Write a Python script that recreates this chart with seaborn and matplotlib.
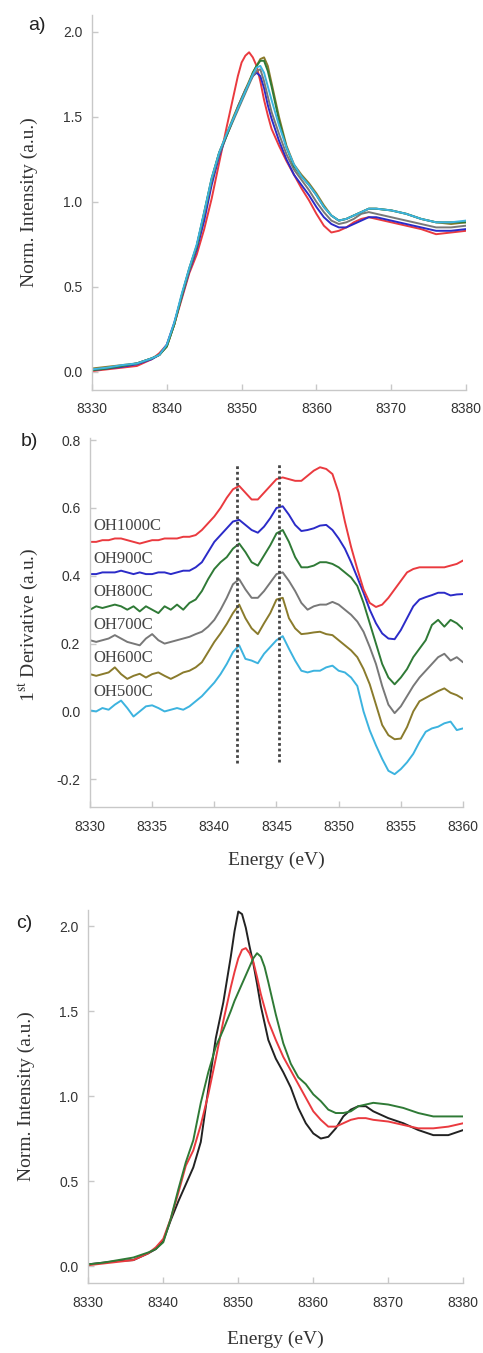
import matplotlib
matplotlib.use("Agg")
import matplotlib.pyplot as plt
import seaborn as sns

# ---------------- data ----------------
# Panel a / c energy grid (eV)
energy_ac = [8330, 8332, 8334, 8336, 8338,
             8339, 8340, 8341, 8342, 8343, 8344, 8345, 8346, 8347, 8348, 8349,
             8349.5, 8350, 8350.5, 8351, 8351.5, 8352, 8352.5, 8353, 8353.5, 8354,
             8355, 8356, 8357, 8358, 8359, 8360, 8361, 8362, 8363, 8364, 8365, 8366, 8367, 8368,
             8370, 8372, 8374, 8376, 8378, 8380]

# Panel a: normalized XANES
a_oh1000 = [0.005, 0.015, 0.025, 0.035, 0.075,
            0.11, 0.16, 0.28, 0.43, 0.58, 0.69, 0.84, 1.02, 1.23, 1.44, 1.64,
            1.74, 1.82, 1.86, 1.88, 1.85, 1.80, 1.71, 1.60, 1.51, 1.43,
            1.33, 1.24, 1.16, 1.08, 1.01, 0.93, 0.86, 0.82, 0.83, 0.85, 0.88, 0.90, 0.91, 0.90,
            0.88, 0.86, 0.84, 0.81, 0.82, 0.83]
a_oh900 = [0.01, 0.02, 0.03, 0.045, 0.075,
           0.10, 0.16, 0.29, 0.44, 0.59, 0.72, 0.89, 1.10, 1.27, 1.39, 1.50,
           1.56, 1.61, 1.66, 1.70, 1.74, 1.76, 1.74, 1.67, 1.57, 1.49,
           1.36, 1.25, 1.16, 1.10, 1.04, 0.97, 0.91, 0.87, 0.85, 0.85, 0.87, 0.89, 0.91, 0.91,
           0.89, 0.87, 0.85, 0.83, 0.83, 0.84]
a_oh700 = [0.015, 0.025, 0.035, 0.05, 0.08,
           0.10, 0.15, 0.28, 0.45, 0.60, 0.74, 0.93, 1.13, 1.28, 1.39, 1.49,
           1.54, 1.59, 1.64, 1.69, 1.74, 1.77, 1.78, 1.71, 1.62, 1.53,
           1.40, 1.28, 1.19, 1.13, 1.07, 1.00, 0.94, 0.89, 0.87, 0.88, 0.90, 0.93, 0.94, 0.93,
           0.91, 0.89, 0.87, 0.85, 0.85, 0.86]
a_oh600 = [0.02, 0.03, 0.04, 0.05, 0.08,
           0.10, 0.15, 0.28, 0.45, 0.60, 0.74, 0.93, 1.13, 1.29, 1.40, 1.51,
           1.56, 1.61, 1.66, 1.71, 1.76, 1.80, 1.84, 1.85, 1.80, 1.70,
           1.50, 1.33, 1.22, 1.16, 1.11, 1.05, 0.98, 0.92, 0.89, 0.90, 0.92, 0.94, 0.96, 0.96,
           0.95, 0.93, 0.90, 0.88, 0.87, 0.88]
a_oh800 = [0.01, 0.02, 0.035, 0.05, 0.08,
           0.10, 0.15, 0.28, 0.45, 0.61, 0.74, 0.94, 1.14, 1.29, 1.39, 1.50,
           1.55, 1.60, 1.65, 1.70, 1.76, 1.80, 1.83, 1.83, 1.77, 1.68,
           1.48, 1.32, 1.21, 1.15, 1.10, 1.04, 0.97, 0.92, 0.89, 0.90, 0.92, 0.94, 0.96, 0.96,
           0.95, 0.93, 0.90, 0.88, 0.88, 0.88]
a_oh500 = [0.015, 0.025, 0.04, 0.05, 0.08,
           0.10, 0.16, 0.29, 0.46, 0.61, 0.75, 0.94, 1.14, 1.29, 1.40, 1.50,
           1.55, 1.60, 1.65, 1.70, 1.75, 1.79, 1.80, 1.76, 1.68, 1.60,
           1.45, 1.32, 1.22, 1.15, 1.10, 1.04, 0.97, 0.92, 0.89, 0.90, 0.92, 0.94, 0.96, 0.96,
           0.95, 0.93, 0.90, 0.88, 0.88, 0.89]

# Panel c: comparison
c_black = [0.01, 0.02, 0.03, 0.035, 0.075,
           0.10, 0.15, 0.27, 0.38, 0.48, 0.58, 0.73, 1.04, 1.34, 1.55, 1.82,
           1.97, 2.085, 2.07, 1.99, 1.88, 1.78, 1.66, 1.53, 1.43, 1.33,
           1.22, 1.14, 1.05, 0.93, 0.84, 0.78, 0.75, 0.76, 0.81, 0.88, 0.92, 0.94, 0.94, 0.91,
           0.87, 0.84, 0.80, 0.77, 0.77, 0.80]
c_red = [0.005, 0.015, 0.025, 0.035, 0.075,
         0.11, 0.16, 0.28, 0.43, 0.59, 0.68, 0.83, 1.01, 1.22, 1.44, 1.64,
         1.73, 1.81, 1.86, 1.87, 1.84, 1.79, 1.70, 1.60, 1.52, 1.44,
         1.33, 1.23, 1.15, 1.07, 0.99, 0.91, 0.86, 0.82, 0.82, 0.84, 0.86, 0.87, 0.87, 0.86,
         0.85, 0.83, 0.81, 0.81, 0.82, 0.84]
c_green = [0.01, 0.02, 0.035, 0.05, 0.08,
           0.10, 0.14, 0.28, 0.45, 0.61, 0.74, 0.96, 1.14, 1.29, 1.39, 1.50,
           1.56, 1.61, 1.66, 1.71, 1.76, 1.81, 1.84, 1.82, 1.76, 1.67,
           1.48, 1.31, 1.19, 1.11, 1.07, 1.01, 0.97, 0.92, 0.90, 0.90, 0.91, 0.94, 0.95, 0.96,
           0.95, 0.93, 0.90, 0.88, 0.88, 0.88]

# Panel b: first derivative (stacked as plotted)
energy_b = [8330.0, 8330.5, 8331.0, 8331.5, 8332.0, 8332.5, 8333.0, 8333.5, 8334.0, 8334.5,
            8335.0, 8335.5, 8336.0, 8336.5, 8337.0, 8337.5, 8338.0, 8338.5, 8339.0, 8339.5,
            8340.0, 8340.5, 8341.0, 8341.5, 8342.0, 8342.5, 8343.0, 8343.5, 8344.0, 8344.5,
            8345.0, 8345.5, 8346.0, 8346.5, 8347.0, 8347.5, 8348.0, 8348.5, 8349.0, 8349.5,
            8350.0, 8350.5, 8351.0, 8351.5, 8352.0, 8352.5, 8353.0, 8353.5, 8354.0, 8354.5,
            8355.0, 8355.5, 8356.0, 8356.5, 8357.0, 8357.5, 8358.0, 8358.5, 8359.0, 8359.5,
            8360.0]
b_oh1000 = [0.50, 0.50, 0.505, 0.505, 0.51, 0.51, 0.505, 0.50, 0.495, 0.50,
            0.505, 0.505, 0.51, 0.51, 0.51, 0.515, 0.515, 0.52, 0.535, 0.555,
            0.575, 0.60, 0.63, 0.655, 0.665, 0.645, 0.625, 0.625, 0.645, 0.665,
            0.685, 0.69, 0.685, 0.68, 0.68, 0.695, 0.71, 0.72, 0.715, 0.70,
            0.645, 0.56, 0.485, 0.42, 0.36, 0.32, 0.308, 0.315, 0.335, 0.36,
            0.385, 0.41, 0.42, 0.425, 0.425, 0.425, 0.425, 0.425, 0.43, 0.435,
            0.445]
b_oh900 = [0.405, 0.405, 0.41, 0.41, 0.41, 0.415, 0.41, 0.405, 0.41, 0.405,
           0.405, 0.41, 0.41, 0.405, 0.41, 0.415, 0.415, 0.425, 0.44, 0.47,
           0.50, 0.52, 0.54, 0.56, 0.565, 0.55, 0.535, 0.527, 0.545, 0.57,
           0.60, 0.605, 0.58, 0.55, 0.532, 0.535, 0.54, 0.548, 0.55, 0.535,
           0.51, 0.48, 0.44, 0.395, 0.35, 0.30, 0.26, 0.23, 0.215, 0.213,
           0.24, 0.275, 0.31, 0.33, 0.337, 0.343, 0.35, 0.35, 0.342, 0.345,
           0.346]
b_oh800 = [0.30, 0.31, 0.305, 0.31, 0.315, 0.31, 0.30, 0.31, 0.295, 0.31,
           0.30, 0.29, 0.31, 0.30, 0.315, 0.30, 0.32, 0.33, 0.355, 0.39,
           0.42, 0.44, 0.455, 0.48, 0.495, 0.47, 0.44, 0.43, 0.46, 0.49,
           0.525, 0.535, 0.50, 0.455, 0.425, 0.425, 0.43, 0.44, 0.44, 0.435,
           0.425, 0.41, 0.395, 0.37, 0.32, 0.26, 0.20, 0.14, 0.10, 0.08,
           0.10, 0.125, 0.16, 0.185, 0.21, 0.255, 0.27, 0.25, 0.27, 0.26,
           0.243]
b_oh700 = [0.21, 0.205, 0.21, 0.215, 0.225, 0.215, 0.205, 0.20, 0.195, 0.215,
           0.228, 0.21, 0.20, 0.205, 0.21, 0.215, 0.22, 0.228, 0.235, 0.25,
           0.27, 0.30, 0.335, 0.375, 0.39, 0.36, 0.335, 0.335, 0.355, 0.38,
           0.405, 0.41, 0.385, 0.355, 0.32, 0.30, 0.31, 0.315, 0.315, 0.323,
           0.315, 0.30, 0.285, 0.265, 0.235, 0.19, 0.14, 0.075, 0.02, -0.005,
           0.015, 0.045, 0.075, 0.10, 0.12, 0.14, 0.16, 0.17, 0.15, 0.16,
           0.145]
b_oh600 = [0.11, 0.105, 0.11, 0.115, 0.13, 0.11, 0.096, 0.105, 0.111, 0.10,
           0.11, 0.115, 0.105, 0.096, 0.105, 0.115, 0.12, 0.13, 0.145, 0.175,
           0.205, 0.23, 0.258, 0.29, 0.315, 0.275, 0.245, 0.228, 0.26, 0.29,
           0.33, 0.335, 0.275, 0.245, 0.228, 0.23, 0.233, 0.235, 0.228, 0.225,
           0.21, 0.195, 0.18, 0.16, 0.125, 0.08, 0.02, -0.04, -0.07, -0.082,
           -0.08, -0.046, 0.0, 0.03, 0.04, 0.05, 0.06, 0.068, 0.055, 0.048,
           0.037]
b_oh500 = [0.003, 0.0, 0.01, 0.005, 0.02, 0.032, 0.01, -0.015, 0.0, 0.015,
           0.018, 0.01, 0.0, 0.005, 0.01, 0.005, 0.015, 0.03, 0.045, 0.065,
           0.085, 0.11, 0.14, 0.175, 0.195, 0.155, 0.15, 0.142, 0.17, 0.19,
           0.21, 0.222, 0.185, 0.15, 0.12, 0.115, 0.12, 0.12, 0.13, 0.135,
           0.12, 0.115, 0.10, 0.075, 0.0, -0.056, -0.10, -0.14, -0.175, -0.185,
           -0.17, -0.15, -0.125, -0.09, -0.06, -0.05, -0.045, -0.035, -0.03, -0.055,
           -0.05]

sample_names = ["OH1000C", "OH900C", "OH800C", "OH700C", "OH600C", "OH500C"]
name_label_y = [0.547, 0.449, 0.351, 0.254, 0.157, 0.057]
marker_energies = [8341.8, 8345.2]
marker_ymin = [-0.153, -0.150]
marker_ymax = [0.732, 0.735]

# ---------------- style ----------------
sns.set_theme(style="ticks")
plt.rcParams['font.family'] = ['Liberation Sans', 'DejaVu Sans']
plt.rcParams['mathtext.fontset'] = 'stix'
plt.rcParams['axes.unicode_minus'] = False

col = {"OH1000C": "#ea3a3f", "OH900C": "#2b2bc8", "OH800C": "#2f7a36",
       "OH700C": "#787878", "OH600C": "#8a7b2c", "OH500C": "#3cb3df"}
SERIF = ['Liberation Serif', 'DejaVu Serif']
TXT = "#333333"
LW = 1.4

fig = plt.figure(figsize=(4.83, 13.53), dpi=100)
axa = fig.add_axes([0.1905, 0.7118, 0.7743, 0.2772])
axb = fig.add_axes([0.1863, 0.4035, 0.7723, 0.2727])
axc = fig.add_axes([0.1828, 0.0517, 0.7764, 0.2757])


def style(ax):
    sns.despine(ax=ax)
    for s in ("left", "bottom"):
        ax.spines[s].set_color("#c8c8c8")
        ax.spines[s].set_linewidth(1.0)
    ax.tick_params(direction="in", length=4, width=1, color="#c8c8c8",
                   labelsize=10, labelcolor=TXT)
    ax.tick_params(axis="x", pad=9)
    ax.tick_params(axis="y", pad=7)


def draw(ax, x, y, c):
    sns.lineplot(x=x, y=y, ax=ax, color=c, linewidth=LW, estimator=None,
                 sort=False, legend=False)


# Panel a
for name, vals in [("OH1000C", a_oh1000), ("OH900C", a_oh900), ("OH700C", a_oh700),
                   ("OH600C", a_oh600), ("OH800C", a_oh800), ("OH500C", a_oh500)]:
    draw(axa, energy_ac, vals, col[name])
axa.set_xlim(8330, 8380)
axa.set_ylim(-0.106, 2.1)
axa.set_xticks([8330, 8340, 8350, 8360, 8370, 8380])
axa.set_yticks([0.0, 0.5, 1.0, 1.5, 2.0])
axa.set_ylabel("Norm. Intensity (a.u.)", family=SERIF, fontsize=14, color=TXT, va="center")
axa.yaxis.set_label_coords(-0.168, 0.5)
axa.set_xlabel("")
style(axa)

# Panel b
b_series = [b_oh500, b_oh600, b_oh700, b_oh800, b_oh900, b_oh1000]
b_names = ["OH500C", "OH600C", "OH700C", "OH800C", "OH900C", "OH1000C"]
for name, vals in zip(b_names, b_series):
    draw(axb, energy_b, vals, col[name])
for xe, y0, y1 in zip(marker_energies, marker_ymin, marker_ymax):
    axb.vlines(xe, y0, y1, colors="#444444", linestyles=(0, (1.0, 1.0)), linewidth=2.0)
for name, ly in zip(sample_names, name_label_y):
    axb.text(8330.3, ly, name, family=SERIF, fontsize=12, color="#444444",
             ha="left", va="center")
axb.set_xlim(8330, 8360)
axb.set_ylim(-0.282, 0.806)
axb.set_xticks([8330, 8335, 8340, 8345, 8350, 8355, 8360])
axb.set_yticks([-0.2, 0.0, 0.2, 0.4, 0.6, 0.8])
axb.set_ylabel(r"1$^{\mathrm{st}}$ Derivative (a.u.)", family=SERIF, fontsize=14,
               color=TXT, va="center")
axb.yaxis.set_label_coords(-0.166, 0.493)
axb.set_xlabel("Energy (eV)", family=SERIF, fontsize=14, color=TXT, va="center")
axb.xaxis.set_label_coords(0.5, -0.145)
style(axb)

# Panel c
for vals, c in [(c_black, "#222222"), (c_red, col["OH1000C"]), (c_green, col["OH800C"])]:
    draw(axc, energy_ac, vals, c)
axc.set_xlim(8330, 8380)
axc.set_ylim(-0.1, 2.094)
axc.set_xticks([8330, 8340, 8350, 8360, 8370, 8380])
axc.set_yticks([0.0, 0.5, 1.0, 1.5, 2.0])
axc.set_ylabel("Norm. Intensity (a.u.)", family=SERIF, fontsize=14, color=TXT, va="center")
axc.yaxis.set_label_coords(-0.165, 0.5)
axc.set_xlabel("Energy (eV)", family=SERIF, fontsize=14, color=TXT, va="center")
axc.xaxis.set_label_coords(0.5, -0.15)
style(axc)

# Panel letters
H = 1353.0
W = 483.0
fig.text(37 / W, 1 - 25 / H, "a)", fontsize=14, color="#222222", ha="center", va="center")
fig.text(29 / W, 1 - 442 / H, "b)", fontsize=14, color="#222222", ha="center", va="center")
fig.text(24 / W, 1 - 923 / H, "c)", fontsize=14, color="#222222", ha="center", va="center")

fig.savefig("out.png", dpi=100)
